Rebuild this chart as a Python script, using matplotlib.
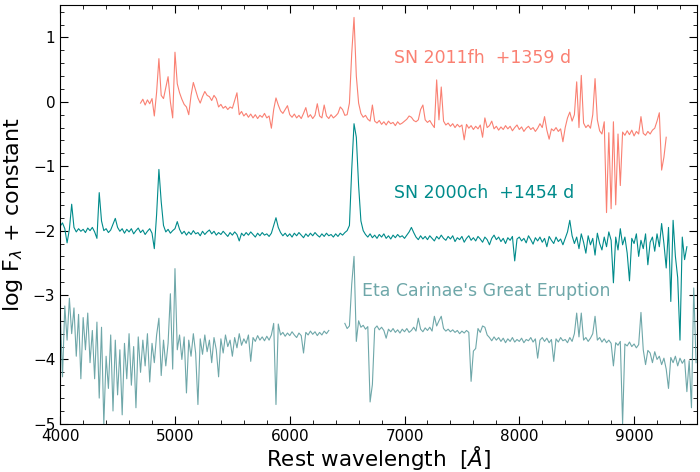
import numpy as np
import matplotlib
matplotlib.use("Agg")
import matplotlib.pyplot as plt
from matplotlib.ticker import MultipleLocator

nan = np.nan
step = 20  # Angstrom per sample

# SN 2011fh, +1359 d (log flux, offset applied)
fh_start = 4700
fh_flux = [
    -0.02, 0.04, -0.05, 0.03, -0.03, 0.05, -0.22, 0.15, 0.67, 0.10,      # 4700
    0.05, 0.22, 0.39, 0.00, -0.25, 0.77, 0.28, 0.14, 0.04, -0.04,        # 4900
    -0.08, -0.20, 0.10, 0.30, 0.18, 0.06, -0.02, 0.08, 0.16, 0.10,       # 5100
    0.08, 0.02, 0.10, 0.05, -0.08, -0.04, -0.10, -0.07, -0.12, -0.08,    # 5300
    -0.10, 0.02, 0.14, -0.20, -0.15, -0.22, -0.18, -0.24, -0.19, -0.25,  # 5500
    -0.20, -0.26, -0.21, -0.24, -0.18, -0.25, -0.22, -0.41, -0.12, 0.06, # 5700
    -0.05, -0.14, -0.18, -0.12, -0.06, -0.20, -0.24, -0.19, -0.25, -0.21,  # 5900
    -0.26, -0.18, -0.09, -0.24, -0.20, -0.26, -0.21, -0.03, -0.22, -0.25,  # 6100
    -0.05, -0.22, -0.26, -0.20, -0.25, -0.22, -0.18, -0.08, -0.12, -0.21,  # 6300
    -0.20, -0.02, 0.75, 1.31, 0.40, -0.02, -0.18, -0.24, -0.21, -0.27,     # 6500
    -0.30, -0.05, -0.30, -0.33, -0.29, -0.35, -0.31, -0.36, -0.30, -0.34,  # 6700
    -0.32, -0.37, -0.31, -0.35, -0.33, -0.30, -0.27, -0.22, -0.24, -0.29,  # 6900
    -0.31, -0.28, -0.12, -0.05, -0.28, -0.32, -0.29, -0.35, -0.40, 0.34,   # 7100
    -0.28, 0.23, -0.30, -0.36, -0.33, -0.38, -0.34, -0.40, -0.35, -0.39,   # 7300
    -0.36, -0.59, -0.35, -0.41, -0.37, -0.43, -0.38, -0.42, -0.36, -0.55,  # 7500
    -0.25, -0.40, -0.37, -0.30, -0.42, -0.38, -0.44, -0.39, -0.43, -0.37,  # 7700
    -0.42, -0.38, -0.45, -0.40, -0.36, -0.43, -0.39, -0.46, -0.41, -0.38,  # 7900
    -0.43, -0.40, -0.46, -0.41, -0.34, -0.40, -0.23, -0.44, -0.58, -0.42,  # 8100
    -0.45, -0.40, -0.46, -0.42, -0.62, -0.40, -0.25, -0.16, -0.30, -0.20,  # 8300
    0.31, -0.40, 0.41, -0.33, -0.40, -0.36, -0.41, -0.20, 0.36, -0.28,     # 8500
    -0.45, -0.50, -0.31, -1.72, -0.48, -1.66, -0.31, -1.60, -0.50, -1.30,  # 8700
    -0.47, -0.52, -0.45, -0.51, -0.44, -0.53, -0.46, -0.50, -0.23, -0.49,  # 8900
    -0.52, -0.46, -0.50, -0.44, -0.41, -0.30, -0.17, -1.06, -0.86, -0.55,  # 9100
]

# SN 2000ch, +1454 d
ch_start = 4000
ch_flux = [
    -1.93, -1.88, -1.97, -2.19, -1.98, -1.59, -1.95, -2.02, -1.97, -2.01,  # 4000
    -1.98, -2.03, -1.96, -2.00, -1.95, -2.02, -2.12, -1.41, -1.85, -2.00,  # 4200
    -1.97, -2.03, -1.99, -1.90, -1.81, -1.95, -2.01, -1.97, -2.04, -1.98,  # 4400
    -2.02, -1.97, -2.05, -2.00, -1.96, -2.03, -1.99, -2.06, -2.01, -1.97,  # 4600
    -2.04, -2.28, -1.75, -1.05, -1.55, -1.92, -2.02, -1.98, -2.04, -2.00,  # 4800
    -1.97, -1.86, -1.98, -2.05, -2.01, -2.07, -2.02, -2.06, -2.00, -2.05,  # 5000
    -2.03, -2.08, -2.01, -2.06, -2.02, -1.99, -2.05, -2.01, -2.07, -2.03,  # 5200
    -2.06, -2.01, -2.05, -2.09, -2.03, -2.07, -2.02, -2.06, -2.16, -2.04,  # 5400
    -2.08, -2.03, -2.07, -2.02, -2.06, -2.10, -2.04, -2.08, -2.03, -2.07,  # 5600
    -2.05, -2.09, -2.04, -1.92, -1.80, -1.95, -2.03, -2.08, -2.04, -2.09,  # 5800
    -2.05, -2.10, -2.04, -2.08, -2.03, -2.07, -2.11, -2.05, -2.09, -2.04,  # 6000
    -2.08, -2.03, -2.07, -2.10, -2.05, -2.09, -2.04, -2.08, -2.06, -2.10,  # 6200
    -2.05, -2.09, -2.04, -2.07, -2.03, -2.00, -1.92, -1.05, -0.34, -0.55,  # 6400
    -1.30, -1.85, -2.00, -2.06, -2.10, -2.05, -2.11, -2.07, -2.12, -2.06,  # 6600
    -2.10, -2.05, -2.12, -2.08, -2.13, -2.07, -2.11, -2.06, -2.10, -2.08,  # 6800
    -2.12, -2.07, -2.02, -1.95, -2.03, -2.10, -2.14, -2.08, -2.13, -2.09,  # 7000
    -2.14, -2.08, -2.12, -2.16, -2.09, -2.13, -2.07, -2.12, -2.15, -2.09,  # 7200
    -2.13, -2.08, -2.17, -2.11, -2.14, -2.09, -2.18, -2.12, -2.08, -2.15,  # 7400
    -2.11, -2.16, -2.09, -2.13, -2.18, -2.10, -2.14, -2.22, -2.12, -2.07,  # 7600
    -2.14, -2.10, -2.17, -2.12, -2.20, -2.11, -2.15, -2.09, -2.47, -2.13,  # 7800
    -2.10, -2.16, -2.12, -2.19, -2.08, -2.14, -2.21, -2.11, -2.16, -2.10,  # 8000
    -2.18, -2.12, -2.25, -2.09, -2.15, -2.20, -2.10, -2.17, -2.13, -2.22,  # 8200
    -2.12, -2.02, -1.84, -2.08, -2.20, -2.10, -2.28, -2.05, -2.18, -2.35,  # 8400
    -2.08, -2.22, -2.12, -2.38, -2.04, -2.20, -2.30, -2.10, -2.25, -2.02,  # 8600
    -2.15, -2.81, -2.10, -2.30, -1.97, -2.22, -2.10, -2.35, -2.78, -2.12,  # 8800
    -2.20, -2.05, -2.40, -2.15, -2.28, -2.05, -2.53, -2.18, -2.10, -2.32,  # 9000
    -2.05, -2.25, -1.89, -2.20, -2.58, -1.95, -3.10, -1.84, -2.40, -2.73,  # 9200
    -3.70, -2.10, -2.45, -2.25,                                            # 9400
]

# Eta Carinae's Great Eruption (light echo); gap where no data
eta_start = 4000
eta_flux = [
    -3.25, -4.27, -3.17, -3.70, -3.05, -3.60, -3.20, -3.95, -3.30, -4.30,  # 4000
    -3.35, -3.85, -3.28, -4.05, -3.55, -4.30, -3.42, -4.60, -3.50, -5.00,  # 4200
    -3.95, -4.45, -3.62, -4.80, -3.70, -4.55, -3.85, -4.86, -3.75, -4.30,  # 4400
    -3.60, -4.40, -3.80, -4.75, -3.65, -4.20, -3.70, -4.10, -3.60, -4.35,  # 4600
    -3.75, -4.05, -3.62, -3.36, -4.25, -3.70, -4.10, -3.75, -2.98, -4.15,  # 4800
    -2.59, -3.85, -3.62, -4.00, -3.65, -4.52, -3.70, -3.95, -3.60, -3.90,  # 5000
    -4.70, -3.68, -3.92, -3.62, -3.88, -3.70, -4.05, -3.66, -3.85, -4.27,  # 5200
    -3.68, -3.90, -3.62, -3.80, -3.70, -3.95, -3.66, -3.82, -3.60, -3.78,  # 5400
    -3.68, -3.75, -3.62, -4.03, -3.66, -3.72, -3.63, -3.70, -3.65, -3.71,  # 5600
    -3.64, -3.70, -3.62, -3.44, -4.70, -3.45, -3.62, -3.58, -3.64, -3.59,  # 5800
    -3.63, -3.57, -3.62, -3.66, -3.59, -3.63, -3.90, -3.58, -3.62, -3.56,  # 6000
    -3.61, -3.57, -3.63, -3.58, -3.62, -3.56, -3.60, -3.55, nan, nan,      # 6200
    nan, nan, nan, nan, -3.44, -3.52, -3.48, -2.83, -2.40, -3.72,          # 6400
    -3.40, -3.50, -3.47, -3.53, -3.49, -4.66, -4.39, -3.52, -3.48, -3.54,  # 6600
    -3.50, -3.55, -3.67, -3.53, -3.57, -3.52, -3.58, -3.54, -3.59, -3.53,  # 6800
    -3.57, -3.52, -3.58, -3.55, -3.50, -3.56, -3.36, -3.53, -3.57, -3.51,  # 7000
    -3.55, -3.50, -3.56, -3.33, -3.48, -3.40, -3.33, -3.52, -3.56, -3.53,  # 7200
    -3.57, -3.54, -3.58, -3.55, -3.60, -3.56, -3.59, -3.55, -3.58, -4.34,  # 7400
    -3.87, -3.83, -3.52, -3.58, -3.48, -3.50, -3.62, -3.66, -3.71, -3.65,  # 7600
    -3.70, -3.66, -3.72, -3.67, -3.74, -3.68, -3.72, -3.66, -3.73, -3.69,  # 7800
    -3.72, -3.67, -3.74, -3.69, -3.71, -3.66, -3.73, -3.68, -3.98, -3.70,  # 8000
    -3.66, -3.72, -3.67, -3.74, -3.69, -4.03, -3.68, -3.73, -3.66, -3.71,  # 8200
    -3.69, -3.74, -3.66, -3.72, -3.60, -3.28, -3.65, -3.28, -3.70, -3.66,  # 8400
    -3.72, -3.67, -3.60, -3.33, -3.70, -3.66, -3.73, -3.68, -3.74, -3.70,  # 8600
    -3.75, -4.10, -3.74, -3.78, -3.72, -5.00, -3.76, -3.79, -3.73, -3.80,  # 8800
    -3.76, -3.82, -3.77, -3.27, -3.85, -4.08, -3.86, -3.90, -4.05, -3.88,  # 9000
    -4.00, -3.95, -4.08, -3.98, -4.15, -4.45, -3.97, -4.05, -3.95, -4.10,  # 9200
    -3.98, -4.06, -4.00, -4.50, -4.02, -4.75, -2.89, -4.05,                # 9400
]

series = [
    ("Eta Carinae's Great Eruption", eta_start, eta_flux, "cadetblue"),
    ("SN 2000ch  +1454 d", ch_start, ch_flux, "darkcyan"),
    ("SN 2011fh  +1359 d", fh_start, fh_flux, "salmon"),
]
label_pos = {
    "SN 2011fh  +1359 d": (6910, 0.68),
    "SN 2000ch  +1454 d": (6910, -1.42),
    "Eta Carinae's Great Eruption": (6630, -2.93),
}

fig, ax = plt.subplots(figsize=(7, 4.72), dpi=100)
fig.subplots_adjust(left=0.086, right=0.996, top=0.989, bottom=0.102)

for name, start, flux, col in series:
    wave = start + step * np.arange(len(flux))
    alpha = 0.9 if col == "cadetblue" else 1.0
    ax.plot(wave, flux, color=col, lw=0.8, alpha=alpha)
    tx, ty = label_pos[name]
    ax.text(tx, ty, name, color=col, fontsize=12.5, va="center", alpha=alpha)

ax.set_xlim(4000, 9550)
ax.set_ylim(-5, 1.5)
ax.xaxis.set_minor_locator(MultipleLocator(200))
ax.yaxis.set_minor_locator(MultipleLocator(0.2))
ax.tick_params(which="both", direction="in", top=True, right=True, labelsize=11)
ax.tick_params(which="major", length=6)
ax.tick_params(which="minor", length=3)
ax.set_xlabel(r"Rest wavelength  [$\AA$]", fontsize=15.5, labelpad=0)
ax.set_ylabel(r"log F$_\lambda$ + constant", fontsize=16, labelpad=6)

plt.savefig("out.png", dpi=100)
